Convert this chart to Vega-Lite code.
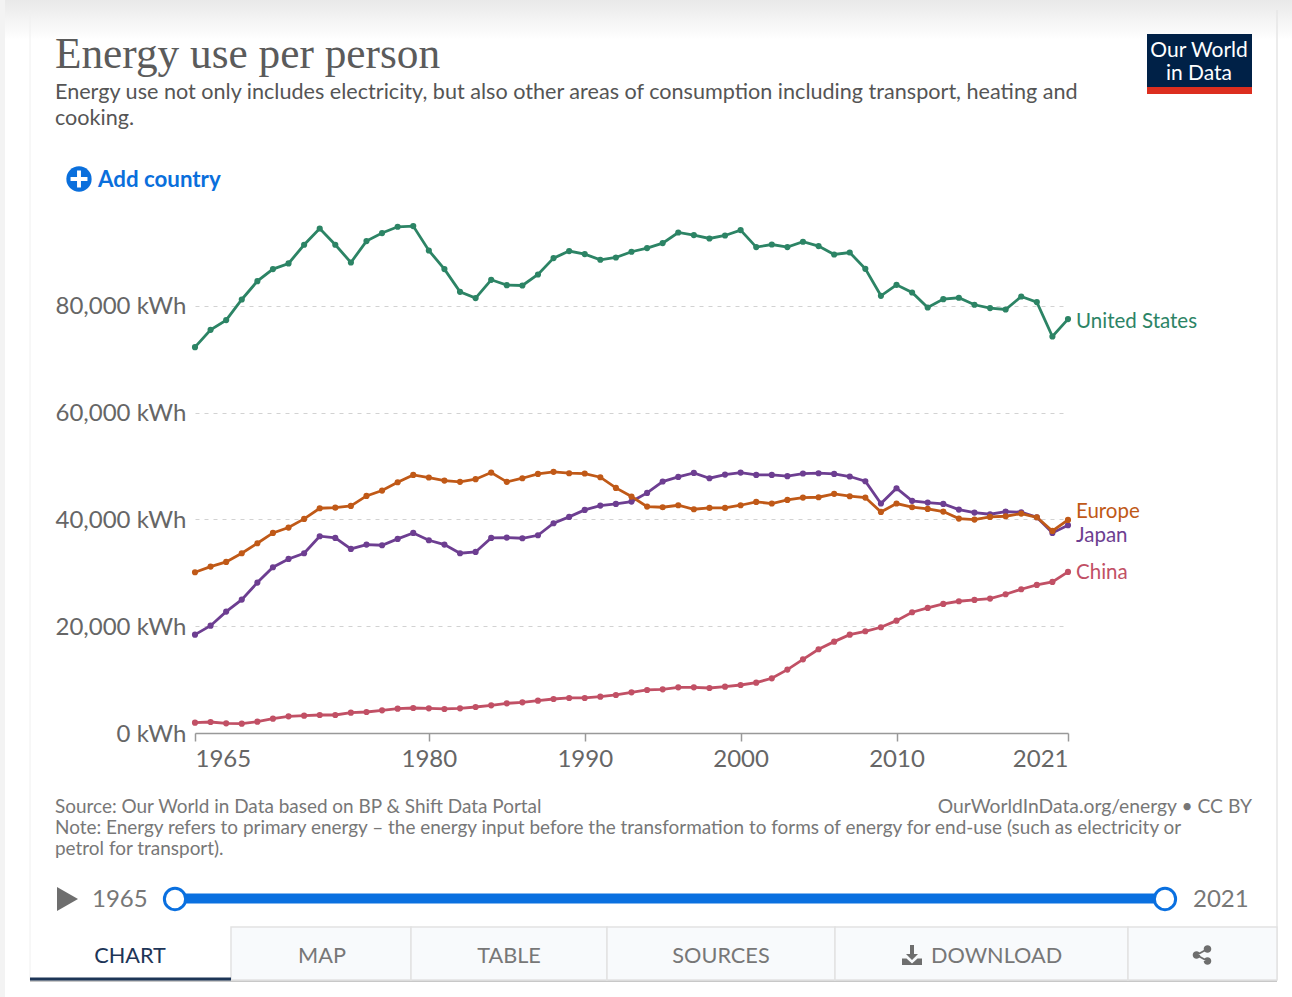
{"$schema":"https://vega.github.io/schema/vega-lite/v6.json","width":873,"height":534,"autosize":{"type":"none"},"padding":{"left":195,"top":199,"right":224,"bottom":264},"background":"#ffffff","config":{"view":{"stroke":null},"font":"Lato","text":{"font":"Lato"}},
"datasets":{"energy":[
{"series":"Japan","year":1965,"value":18420},{"series":"Japan","year":1966,"value":20100},{"series":"Japan","year":1967,"value":22730},{"series":"Japan","year":1968,"value":24980},{"series":"Japan","year":1969,"value":28170},{"series":"Japan","year":1970,"value":31040},{"series":"Japan","year":1971,"value":32600},{"series":"Japan","year":1972,"value":33660},{"series":"Japan","year":1973,"value":36850},{"series":"Japan","year":1974,"value":36530},{"series":"Japan","year":1975,"value":34470},{"series":"Japan","year":1976,"value":35280},{"series":"Japan","year":1977,"value":35160},{"series":"Japan","year":1978,"value":36350},{"series":"Japan","year":1979,"value":37470},{"series":"Japan","year":1980,"value":36100},{"series":"Japan","year":1981,"value":35280},{"series":"Japan","year":1982,"value":33660},{"series":"Japan","year":1983,"value":33910},{"series":"Japan","year":1984,"value":36530},{"series":"Japan","year":1985,"value":36590},{"series":"Japan","year":1986,"value":36470},{"series":"Japan","year":1987,"value":37030},{"series":"Japan","year":1988,"value":39280},{"series":"Japan","year":1989,"value":40470},{"series":"Japan","year":1990,"value":41780},{"series":"Japan","year":1991,"value":42590},{"series":"Japan","year":1992,"value":42900},{"series":"Japan","year":1993,"value":43340},{"series":"Japan","year":1994,"value":44960},{"series":"Japan","year":1995,"value":47090},{"series":"Japan","year":1996,"value":47960},{"series":"Japan","year":1997,"value":48710},{"series":"Japan","year":1998,"value":47710},{"series":"Japan","year":1999,"value":48400},{"series":"Japan","year":2000,"value":48770},{"series":"Japan","year":2001,"value":48330},{"series":"Japan","year":2002,"value":48330},{"series":"Japan","year":2003,"value":48090},{"series":"Japan","year":2004,"value":48590},{"series":"Japan","year":2005,"value":48650},{"series":"Japan","year":2006,"value":48520},{"series":"Japan","year":2007,"value":48030},{"series":"Japan","year":2008,"value":47150},{"series":"Japan","year":2009,"value":42970},{"series":"Japan","year":2010,"value":45840},{"series":"Japan","year":2011,"value":43470},{"series":"Japan","year":2012,"value":43150},{"series":"Japan","year":2013,"value":42900},{"series":"Japan","year":2014,"value":41840},{"series":"Japan","year":2015,"value":41280},{"series":"Japan","year":2016,"value":40970},{"series":"Japan","year":2017,"value":41470},{"series":"Japan","year":2018,"value":41340},{"series":"Japan","year":2019,"value":40400},{"series":"Japan","year":2020,"value":37470},{"series":"Japan","year":2021,"value":38910},
{"series":"China","year":1965,"value":1940},{"series":"China","year":1966,"value":2060},{"series":"China","year":1967,"value":1810},{"series":"China","year":1968,"value":1750},{"series":"China","year":1969,"value":2120},{"series":"China","year":1970,"value":2680},{"series":"China","year":1971,"value":3120},{"series":"China","year":1972,"value":3250},{"series":"China","year":1973,"value":3370},{"series":"China","year":1974,"value":3370},{"series":"China","year":1975,"value":3810},{"series":"China","year":1976,"value":3930},{"series":"China","year":1977,"value":4250},{"series":"China","year":1978,"value":4560},{"series":"China","year":1979,"value":4680},{"series":"China","year":1980,"value":4620},{"series":"China","year":1981,"value":4500},{"series":"China","year":1982,"value":4620},{"series":"China","year":1983,"value":4870},{"series":"China","year":1984,"value":5180},{"series":"China","year":1985,"value":5560},{"series":"China","year":1986,"value":5750},{"series":"China","year":1987,"value":6060},{"series":"China","year":1988,"value":6370},{"series":"China","year":1989,"value":6560},{"series":"China","year":1990,"value":6560},{"series":"China","year":1991,"value":6810},{"series":"China","year":1992,"value":7120},{"series":"China","year":1993,"value":7620},{"series":"China","year":1994,"value":8060},{"series":"China","year":1995,"value":8180},{"series":"China","year":1996,"value":8550},{"series":"China","year":1997,"value":8550},{"series":"China","year":1998,"value":8430},{"series":"China","year":1999,"value":8680},{"series":"China","year":2000,"value":8990},{"series":"China","year":2001,"value":9430},{"series":"China","year":2002,"value":10240},{"series":"China","year":2003,"value":11870},{"series":"China","year":2004,"value":13800},{"series":"China","year":2005,"value":15680},{"series":"China","year":2006,"value":17110},{"series":"China","year":2007,"value":18420},{"series":"China","year":2008,"value":19050},{"series":"China","year":2009,"value":19800},{"series":"China","year":2010,"value":21040},{"series":"China","year":2011,"value":22610},{"series":"China","year":2012,"value":23420},{"series":"China","year":2013,"value":24170},{"series":"China","year":2014,"value":24670},{"series":"China","year":2015,"value":24920},{"series":"China","year":2016,"value":25170},{"series":"China","year":2017,"value":25980},{"series":"China","year":2018,"value":26920},{"series":"China","year":2019,"value":27730},{"series":"China","year":2020,"value":28290},{"series":"China","year":2021,"value":30160},
{"series":"United States","year":1965,"value":72260},{"series":"United States","year":1966,"value":75500},{"series":"United States","year":1967,"value":77320},{"series":"United States","year":1968,"value":81180},{"series":"United States","year":1969,"value":84620},{"series":"United States","year":1970,"value":86870},{"series":"United States","year":1971,"value":87930},{"series":"United States","year":1972,"value":91430},{"series":"United States","year":1973,"value":94480},{"series":"United States","year":1974,"value":91430},{"series":"United States","year":1975,"value":88110},{"series":"United States","year":1976,"value":92120},{"series":"United States","year":1977,"value":93620},{"series":"United States","year":1978,"value":94800},{"series":"United States","year":1979,"value":94930},{"series":"United States","year":1980,"value":90360},{"series":"United States","year":1981,"value":86870},{"series":"United States","year":1982,"value":82620},{"series":"United States","year":1983,"value":81440},{"series":"United States","year":1984,"value":84870},{"series":"United States","year":1985,"value":83870},{"series":"United States","year":1986,"value":83800},{"series":"United States","year":1987,"value":85860},{"series":"United States","year":1988,"value":88930},{"series":"United States","year":1989,"value":90250},{"series":"United States","year":1990,"value":89680},{"series":"United States","year":1991,"value":88620},{"series":"United States","year":1992,"value":89050},{"series":"United States","year":1993,"value":90120},{"series":"United States","year":1994,"value":90810},{"series":"United States","year":1995,"value":91740},{"series":"United States","year":1996,"value":93730},{"series":"United States","year":1997,"value":93240},{"series":"United States","year":1998,"value":92610},{"series":"United States","year":1999,"value":93170},{"series":"United States","year":2000,"value":94180},{"series":"United States","year":2001,"value":90990},{"series":"United States","year":2002,"value":91480},{"series":"United States","year":2003,"value":90990},{"series":"United States","year":2004,"value":91990},{"series":"United States","year":2005,"value":91180},{"series":"United States","year":2006,"value":89610},{"series":"United States","year":2007,"value":89980},{"series":"United States","year":2008,"value":86930},{"series":"United States","year":2009,"value":81870},{"series":"United States","year":2010,"value":83930},{"series":"United States","year":2011,"value":82490},{"series":"United States","year":2012,"value":79680},{"series":"United States","year":2013,"value":81250},{"series":"United States","year":2014,"value":81500},{"series":"United States","year":2015,"value":80190},{"series":"United States","year":2016,"value":79570},{"series":"United States","year":2017,"value":79310},{"series":"United States","year":2018,"value":81740},{"series":"United States","year":2019,"value":80690},{"series":"United States","year":2020,"value":74250},{"series":"United States","year":2021,"value":77510},
{"series":"Europe","year":1965,"value":30100},{"series":"Europe","year":1966,"value":31160},{"series":"Europe","year":1967,"value":32040},{"series":"Europe","year":1968,"value":33660},{"series":"Europe","year":1969,"value":35530},{"series":"Europe","year":1970,"value":37470},{"series":"Europe","year":1971,"value":38470},{"series":"Europe","year":1972,"value":40090},{"series":"Europe","year":1973,"value":42090},{"series":"Europe","year":1974,"value":42220},{"series":"Europe","year":1975,"value":42530},{"series":"Europe","year":1976,"value":44400},{"series":"Europe","year":1977,"value":45400},{"series":"Europe","year":1978,"value":46960},{"series":"Europe","year":1979,"value":48330},{"series":"Europe","year":1980,"value":47840},{"series":"Europe","year":1981,"value":47270},{"series":"Europe","year":1982,"value":47030},{"series":"Europe","year":1983,"value":47530},{"series":"Europe","year":1984,"value":48770},{"series":"Europe","year":1985,"value":47030},{"series":"Europe","year":1986,"value":47710},{"series":"Europe","year":1987,"value":48520},{"series":"Europe","year":1988,"value":48900},{"series":"Europe","year":1989,"value":48650},{"series":"Europe","year":1990,"value":48590},{"series":"Europe","year":1991,"value":47900},{"series":"Europe","year":1992,"value":45900},{"series":"Europe","year":1993,"value":44280},{"series":"Europe","year":1994,"value":42400},{"series":"Europe","year":1995,"value":42280},{"series":"Europe","year":1996,"value":42650},{"series":"Europe","year":1997,"value":41900},{"series":"Europe","year":1998,"value":42150},{"series":"Europe","year":1999,"value":42150},{"series":"Europe","year":2000,"value":42650},{"series":"Europe","year":2001,"value":43280},{"series":"Europe","year":2002,"value":42970},{"series":"Europe","year":2003,"value":43650},{"series":"Europe","year":2004,"value":44090},{"series":"Europe","year":2005,"value":44150},{"series":"Europe","year":2006,"value":44780},{"series":"Europe","year":2007,"value":44340},{"series":"Europe","year":2008,"value":44090},{"series":"Europe","year":2009,"value":41400},{"series":"Europe","year":2010,"value":42970},{"series":"Europe","year":2011,"value":42280},{"series":"Europe","year":2012,"value":41970},{"series":"Europe","year":2013,"value":41470},{"series":"Europe","year":2014,"value":40160},{"series":"Europe","year":2015,"value":39970},{"series":"Europe","year":2016,"value":40470},{"series":"Europe","year":2017,"value":40590},{"series":"Europe","year":2018,"value":41090},{"series":"Europe","year":2019,"value":40400},{"series":"Europe","year":2020,"value":37840},{"series":"Europe","year":2021,"value":39910}
]},
"layer":[
{"data":{"name":"energy"},"encoding":{"x":{"field":"year","type":"quantitative","title":null,"scale":{"domain":[1965,2021],"nice":false,"zero":false},"axis":{"values":[1965,1980,1990,2000,2010,2021],"format":"d","grid":false,"domainColor":"#999999","domainWidth":1.5,"tickColor":"#999999","tickWidth":1.5,"tickSize":8,"labelFontSize":24,"labelFont":"Lato","labelColor":"#666666","labelPadding":6,"labelOverlap":false,"labelBound":false,"labelFlush":false,"labelAlign":{"expr":"datum.value==1965?'left':datum.value==2021?'right':'center'"}}},"y":{"field":"value","type":"quantitative","title":null,"scale":{"domain":[0,100000],"nice":false},"axis":{"values":[0,20000,40000,60000,80000],"domain":false,"ticks":false,"grid":true,"gridColor":"#d2d2d2","gridDash":[4,5],"gridWidth":1,"labelFontSize":24,"labelFont":"Lato","labelColor":"#666666","labelPadding":9,"labelOffset":1,"labelExpr":"format(datum.value,',')+' kWh'"}},"color":{"field":"series","type":"nominal","legend":null,"scale":{"domain":["Japan","China","United States","Europe"],"range":["#6D3E91","#C15065","#2C8465","#C05917"]}}},
"layer":[{"mark":{"type":"line","strokeWidth":2.8}},{"mark":{"type":"point","filled":true,"opacity":1,"size":38}}]},
{"data":{"name":"energy"},"transform":[{"filter":"datum.year==2021&&datum.series=='United States'"}],"mark":{"type":"text","align":"left","dx":8,"dy":2.5,"fontSize":20.5,"font":"Lato","color":"#2C8465"},"encoding":{"x":{"field":"year","type":"quantitative"},"y":{"field":"value","type":"quantitative"},"text":{"field":"series"}}},
{"data":{"name":"energy"},"transform":[{"filter":"datum.year==2021&&datum.series=='Europe'"}],"mark":{"type":"text","align":"left","dx":8,"dy":-7.5,"fontSize":20.5,"font":"Lato","color":"#C05917"},"encoding":{"x":{"field":"year","type":"quantitative"},"y":{"field":"value","type":"quantitative"},"text":{"field":"series"}}},
{"data":{"name":"energy"},"transform":[{"filter":"datum.year==2021&&datum.series=='Japan'"}],"mark":{"type":"text","align":"left","dx":8,"dy":11,"fontSize":20.5,"font":"Lato","color":"#6D3E91"},"encoding":{"x":{"field":"year","type":"quantitative"},"y":{"field":"value","type":"quantitative"},"text":{"field":"series"}}},
{"data":{"name":"energy"},"transform":[{"filter":"datum.year==2021&&datum.series=='China'"}],"mark":{"type":"text","align":"left","dx":8,"dy":1.5,"fontSize":20.5,"font":"Lato","color":"#C15065"},"encoding":{"x":{"field":"year","type":"quantitative"},"y":{"field":"value","type":"quantitative"},"text":{"field":"series"}}},
{"data":{"values":[{}]},"mark":{"type":"rect","fill":{"gradient":"linear","x1":0,"y1":0,"x2":0,"y2":1,"stops":[{"offset":0,"color":"#e9e9e9"},{"offset":1,"color":"#ffffff"}]}},"encoding":{"x":{"value":-195},"x2":{"value":1097},"y":{"value":-199},"y2":{"value":-159}}},
{"data":{"values":[{}]},"mark":{"type":"rect","fill":"#f3f3f3"},"encoding":{"x":{"value":-195},"x2":{"value":-190},"y":{"value":-199},"y2":{"value":798}}},
{"data":{"values":[{}]},"mark":{"type":"rule","color":"#e6e6e6","strokeWidth":1.5},"encoding":{"x":{"value":1082},"y":{"value":-189},"y2":{"value":781}}},
{"data":{"values":[{}]},"mark":{"type":"rule","color":"#f0f0f0","strokeWidth":1},"encoding":{"x":{"value":-165},"y":{"value":-189},"y2":{"value":781}}},
{"data":{"values":[{}]},"mark":{"type":"rule","color":"#c8c8c8","strokeWidth":2},"encoding":{"x":{"value":-165},"x2":{"value":1082},"y":{"value":782}}},
{"data":{"values":[{}]},"mark":{"type":"text","text":"Energy use per person","x":-140,"y":-144,"align":"left","baseline":"middle","font":"Liberation Serif","fontSize":43.3,"color":"#5b5b5b"}},
{"data":{"values":[{}]},"mark":{"type":"text","text":"Energy use not only includes electricity, but also other areas of consumption including transport, heating and","x":-140,"y":-106,"align":"left","baseline":"middle","font":"Lato","fontSize":21.6,"color":"#555555"}},
{"data":{"values":[{}]},"mark":{"type":"text","text":"cooking.","x":-140,"y":-80,"align":"left","baseline":"middle","font":"Lato","fontSize":21.6,"color":"#555555"}},
{"data":{"values":[{}]},"mark":{"type":"rect","fill":"#002147"},"encoding":{"x":{"value":952},"x2":{"value":1057},"y":{"value":-165},"y2":{"value":-112}}},
{"data":{"values":[{}]},"mark":{"type":"rect","fill":"#dc2e1f"},"encoding":{"x":{"value":952},"x2":{"value":1057},"y":{"value":-112},"y2":{"value":-105}}},
{"data":{"values":[{}]},"mark":{"type":"text","text":"Our World","x":1004,"y":-148.5,"align":"center","baseline":"middle","font":"Lato","fontSize":21,"color":"#ffffff"}},
{"data":{"values":[{}]},"mark":{"type":"text","text":"in Data","x":1004,"y":-125.5,"align":"center","baseline":"middle","font":"Lato","fontSize":21,"color":"#ffffff"}},
{"data":{"values":[{}]},"mark":{"type":"point","filled":true,"opacity":1,"size":640,"shape":"circle","x":-116,"y":-20,"color":"#0a6fdc"}},
{"data":{"values":[{}]},"mark":{"type":"point","filled":true,"opacity":1,"size":676,"shape":"M-0.15,-0.65H0.15V-0.15H0.65V0.15H0.15V0.65H-0.15V0.15H-0.65V-0.15H-0.15Z","x":-116,"y":-20,"color":"#ffffff"}},
{"data":{"values":[{}]},"mark":{"type":"text","text":"Add country","x":-97,"y":-19,"align":"left","baseline":"middle","font":"Lato","fontWeight":"bold","fontSize":22.3,"color":"#0a6fdc"}},
{"data":{"values":[{}]},"mark":{"type":"text","text":"Source: Our World in Data based on BP & Shift Data Portal","x":-140,"y":608,"align":"left","baseline":"middle","font":"Lato","fontSize":18.95,"color":"#777777"}},
{"data":{"values":[{}]},"mark":{"type":"text","text":"OurWorldInData.org/energy • CC BY","x":1057,"y":608,"align":"right","baseline":"middle","font":"Lato","fontSize":19.3,"color":"#777777"}},
{"data":{"values":[{}]},"mark":{"type":"text","text":"Note: Energy refers to primary energy – the energy input before the transformation to forms of energy for end-use (such as electricity or","x":-140,"y":629,"align":"left","baseline":"middle","font":"Lato","fontSize":18.96,"color":"#777777"}},
{"data":{"values":[{}]},"mark":{"type":"text","text":"petrol for transport).","x":-140,"y":650,"align":"left","baseline":"middle","font":"Lato","fontSize":18.96,"color":"#777777"}},
{"data":{"values":[{}]},"mark":{"type":"point","filled":true,"opacity":1,"size":576,"shape":"M-0.875,-1L0.875,0L-0.875,1Z","x":-127.5,"y":700,"color":"#6e6e6e"}},
{"data":{"values":[{}]},"mark":{"type":"text","text":"1965","x":-103,"y":701,"align":"left","baseline":"middle","font":"Lato","fontSize":24,"color":"#777777"}},
{"data":{"values":[{}]},"mark":{"type":"text","text":"2021","x":998,"y":701,"align":"left","baseline":"middle","font":"Lato","fontSize":24,"color":"#777777"}},
{"data":{"values":[{}]},"mark":{"type":"rule","color":"#0a70e0","strokeWidth":10},"encoding":{"x":{"value":-20},"x2":{"value":970},"y":{"value":699.5}}},
{"data":{"values":[{}]},"mark":{"type":"point","filled":true,"opacity":1,"size":452,"shape":"circle","x":-20,"y":700,"fill":"#ffffff","stroke":"#0a70e0","strokeWidth":3}},
{"data":{"values":[{}]},"mark":{"type":"point","filled":true,"opacity":1,"size":452,"shape":"circle","x":970,"y":700,"fill":"#ffffff","stroke":"#0a70e0","strokeWidth":3}},
{"data":{"values":[{}]},"mark":{"type":"rect","fill":"#f8fafc","stroke":"#e2e2e2","strokeWidth":1.5},"encoding":{"x":{"value":36},"x2":{"value":216},"y":{"value":728},"y2":{"value":781}}},
{"data":{"values":[{}]},"mark":{"type":"rect","fill":"#f8fafc","stroke":"#e2e2e2","strokeWidth":1.5},"encoding":{"x":{"value":216},"x2":{"value":412},"y":{"value":728},"y2":{"value":781}}},
{"data":{"values":[{}]},"mark":{"type":"rect","fill":"#f8fafc","stroke":"#e2e2e2","strokeWidth":1.5},"encoding":{"x":{"value":412},"x2":{"value":640},"y":{"value":728},"y2":{"value":781}}},
{"data":{"values":[{}]},"mark":{"type":"rect","fill":"#f8fafc","stroke":"#e2e2e2","strokeWidth":1.5},"encoding":{"x":{"value":640},"x2":{"value":933},"y":{"value":728},"y2":{"value":781}}},
{"data":{"values":[{}]},"mark":{"type":"rect","fill":"#f8fafc","stroke":"#e2e2e2","strokeWidth":1.5},"encoding":{"x":{"value":933},"x2":{"value":1082},"y":{"value":728},"y2":{"value":781}}},
{"data":{"values":[{}]},"mark":{"type":"rule","color":"#1d3557","strokeWidth":3},"encoding":{"x":{"value":-165},"x2":{"value":36},"y":{"value":780}}},
{"data":{"values":[{}]},"mark":{"type":"text","text":"CHART","x":-65,"y":757,"align":"center","baseline":"middle","font":"Lato","fontSize":21.7,"color":"#1d3557"}},
{"data":{"values":[{}]},"mark":{"type":"text","text":"MAP","x":127,"y":757,"align":"center","baseline":"middle","font":"Lato","fontSize":21.7,"color":"#777777"}},
{"data":{"values":[{}]},"mark":{"type":"text","text":"TABLE","x":314,"y":757,"align":"center","baseline":"middle","font":"Lato","fontSize":21.7,"color":"#777777"}},
{"data":{"values":[{}]},"mark":{"type":"text","text":"SOURCES","x":526,"y":757,"align":"center","baseline":"middle","font":"Lato","fontSize":21.7,"color":"#777777"}},
{"data":{"values":[{}]},"mark":{"type":"text","text":"DOWNLOAD","x":736,"y":757,"align":"left","baseline":"middle","font":"Lato","fontSize":21.7,"color":"#777777"}},
{"data":{"values":[{}]},"mark":{"type":"point","filled":true,"opacity":1,"size":400,"shape":"M-0.2,-1H0.2V-0.1H0.6L0,0.5L-0.6,-0.1H-0.2Z M-1,0.35H-0.55L0,0.85L0.55,0.35H1V1H-1Z","x":717,"y":756,"color":"#6e6e6e"}},
{"data":{"values":[{}]},"mark":{"type":"point","filled":true,"opacity":1,"size":400,"shape":"M0.55,-0.98A0.38,0.38 0 1 1 0.549,-0.98Z M-0.55,-0.38A0.38,0.38 0 1 1 -0.551,-0.38Z M0.55,0.22A0.38,0.38 0 1 1 0.549,0.22Z M-0.55,-0.1L0.55,-0.7L0.55,-0.5L-0.55,0.1Z M-0.55,-0.1L0.55,0.5L0.55,0.7L-0.55,0.1Z","x":1007,"y":756,"color":"#6e6e6e"}}
]}
